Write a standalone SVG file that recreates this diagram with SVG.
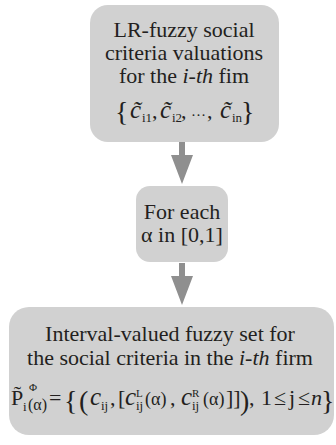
<svg xmlns="http://www.w3.org/2000/svg" width="336" height="445" viewBox="0 0 336 445">
  <style>
    .box { fill: #d1d1d1; stroke: none; }
    .t { font-family: "Liberation Serif", "Times New Roman", serif; font-size: 22px; fill: #231f20; }
    .c { text-anchor: middle; }
    .it { font-style: italic; }
    .sub { font-size: 13px; }
    .sup { font-size: 11px; }
    .arg { font-size: 18px; }
    .big { font-size: 28px; }
    .var { font-size: 25px; font-style: italic; }
    .flow { fill: #8f8f8f; stroke: none; }
  </style>
  <defs>
    <!-- downward block arrow: shaft plus head, tip at (0,0) -->
    <path id="down" d="M-3,-42 L3,-42 L3,-29 L11,-29 L0,0 L-11,-29 L-3,-29 Z"/>
  </defs>

  <g id="connectors">
    <use href="#down" class="flow" x="182" y="184"/>
    <use href="#down" class="flow" x="182" y="305"/>
  </g>

  <!-- LR-fuzzy valuations -->
  <g id="node-valuations">
    <rect class="box" x="90" y="5" width="189" height="137" rx="18"/>
    <text class="t c" x="184" y="37">LR-fuzzy social</text>
    <text class="t c" x="184" y="60">criteria valuations</text>
    <text class="t c" x="184" y="83">for the <tspan class="it">i-th</tspan> fim</text>
    <!-- set of fuzzy valuations, laid out glyph by glyph -->
    <text class="t"><tspan x="115" y="121" class="big">{</tspan><tspan x="130" y="118" class="var">c̃</tspan><tspan x="142" y="122" class="sub">i1</tspan><tspan x="152" y="118">,</tspan><tspan x="160" y="118" class="var">c̃</tspan><tspan x="172" y="122" class="sub">i2</tspan><tspan x="181" y="118">,</tspan><tspan x="191" y="116" font-size="15">…</tspan><tspan x="207" y="118">,</tspan><tspan x="220" y="118" class="var">c̃</tspan><tspan x="232" y="122" class="sub">in</tspan><tspan x="241" y="121" class="big">}</tspan></text>
  </g>

  <!-- alpha-cut loop -->
  <g id="node-alpha">
    <rect class="box" x="136" y="186" width="92" height="76" rx="14"/>
    <text class="t c" x="182" y="219">For each</text>
    <text class="t c" x="182" y="242">α in [0,1]</text>
  </g>

  <!-- interval-valued result -->
  <g id="node-interval">
    <rect class="box" x="9" y="307" width="325" height="128" rx="20"/>
    <text class="t c" x="170" y="341">Interval-valued fuzzy set for</text>
    <text class="t c" x="170" y="365">the social criteria in the <tspan class="it">i-th</tspan> firm</text>
    <!-- alpha-cut interval set, laid out glyph by glyph -->
    <text class="t"><tspan x="11" y="405">P̃</tspan><tspan x="23" y="411" class="sub">i</tspan><tspan x="29" y="391" class="sup">Φ</tspan><tspan x="28" y="410" font-size="16">(α)</tspan><tspan x="49" y="405">=</tspan><tspan x="64" y="410" class="big">{</tspan><tspan x="79" y="410" class="big">(</tspan><tspan x="90" y="405" class="var">c</tspan><tspan x="101" y="410" class="sub">ij</tspan><tspan x="110" y="405">,</tspan><tspan x="118" y="405">[</tspan><tspan x="125" y="405" class="var">c</tspan><tspan x="136" y="410" class="sub">ij</tspan><tspan x="136" y="397" class="sup">L</tspan><tspan x="145" y="405" class="arg">(α)</tspan><tspan x="170" y="405">,</tspan><tspan x="181" y="405" class="var">c</tspan><tspan x="192" y="410" class="sub">ij</tspan><tspan x="192" y="397" class="sup">R</tspan><tspan x="203" y="405" class="arg">(α)</tspan><tspan x="226" y="405">]]</tspan><tspan x="240" y="410" class="big">)</tspan><tspan x="249" y="405">,</tspan><tspan x="261" y="405">1</tspan><tspan x="274" y="405">≤</tspan><tspan x="289" y="405">j</tspan><tspan x="298" y="405">≤</tspan><tspan x="311" y="405" class="it">n</tspan><tspan x="321" y="410" class="big">}</tspan></text>
  </g>
</svg>
